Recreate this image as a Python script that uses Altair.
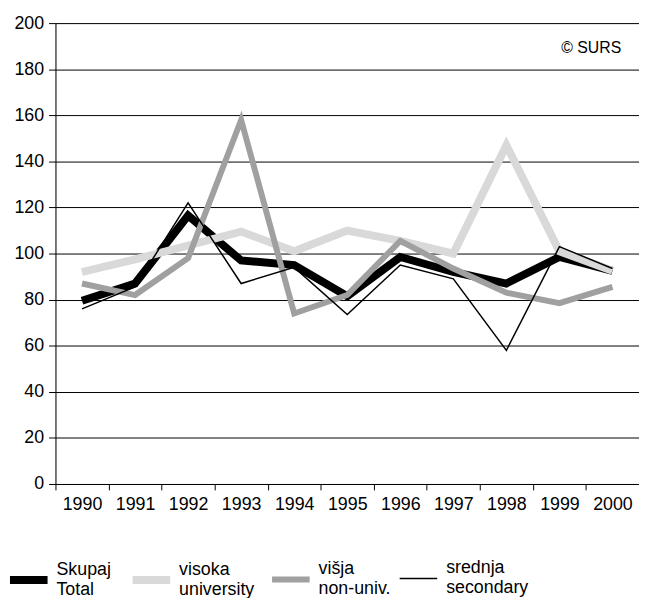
import altair as alt
import pandas as pd

years = ["1990", "1991", "1992", "1993", "1994", "1995", "1996", "1997", "1998", "1999", "2000"]
series_names = ["Skupaj|Total", "visoka|university", "višja|non-univ.", "srednja|secondary"]
skupaj = [79.5, 87, 116.5, 97, 95, 81.5, 98.5, 92, 87, 98.5, 92.5]
visoka = [92, 97.5, 103.5, 109.5, 101, 110, 105.5, 100, 147, 101, 92.5]
visja = [87, 82, 98, 158, 74, 82, 105.5, 93.5, 83, 78.5, 85.5]
srednja = [76, 85.5, 122, 87, 94, 73.5, 95, 89, 58, 103, 93.5]
y_ticks = [0, 20, 40, 60, 80, 100, 120, 140, 160, 180, 200]
colors = ["#000000", "#d9d9d9", "#a0a0a0", "#000000"]
widths = [8, 8, 6, 1.5]
source_note = ["© SURS"]

rows = []
for name, vals in zip(series_names, [skupaj, visoka, visja, srednja]):
    for yr, v in zip(years, vals):
        rows.append({"series": name, "year": yr, "value": v, "order": series_names.index(name)})
df = pd.DataFrame(rows)

FONT = "Liberation Sans"
FS = 18

lines = alt.Chart(df).mark_line(strokeJoin="miter").encode(
    x=alt.X("year:O", sort=years,
            scale=alt.Scale(type="band", paddingInner=0, paddingOuter=0),
            axis=alt.Axis(title=None, labelAngle=0, tickBand="extent", tickSize=6,
                          labelPadding=6, labelFontSize=FS, labelFont=FONT,
                          labelColor="#000000", domainColor="#000000", tickColor="#000000",
                          grid=False)),
    y=alt.Y("value:Q", scale=alt.Scale(domain=[0, 200], nice=False),
            axis=alt.Axis(title=None, values=y_ticks, tickSize=7, labelPadding=5,
                          labelFontSize=FS, labelFont=FONT, labelColor="#000000",
                          domainColor="#000000", tickColor="#000000",
                          gridColor="#000000", gridOpacity=1, gridWidth=1)),
    color=alt.Color("series:N", sort=series_names,
                    scale=alt.Scale(domain=series_names, range=colors),
                    legend=alt.Legend(title=None, orient="none", legendX=-50, legendY=540,
                                      direction="horizontal", columns=4,
                                      symbolType="stroke", symbolSize=1444,
                                      labelExpr="split(datum.label, '|')",
                                      labelBaseline="line-bottom",
                                      labelFontSize=FS, labelFont=FONT, labelColor="#000000",
                                      labelOffset=5, columnPadding=5, labelLimit=200,
                                      padding=0)),
    strokeWidth=alt.StrokeWidth("series:N", sort=series_names,
                                scale=alt.Scale(type="ordinal", domain=series_names, range=widths),
                                legend=alt.Legend(title=None)),
    detail="series:N",
    order=alt.Order("order:Q"),
)

note = alt.Chart(pd.DataFrame({"t": source_note})).mark_text(
    align="right", baseline="middle", fontSize=16, font=FONT, color="#000000"
).encode(text="t:N", x=alt.value(572), y=alt.value(25))

chart = alt.layer(lines, note).properties(
    width=590, height=466,
    autosize=alt.AutoSizeParams(type="none"),
    padding={"left": 48, "top": 12, "right": 0, "bottom": 112},
).configure_view(stroke="#000000", strokeWidth=1).configure(background="#ffffff")

chart.save("out.html", embed_options={"renderer": "svg", "actions": False})
